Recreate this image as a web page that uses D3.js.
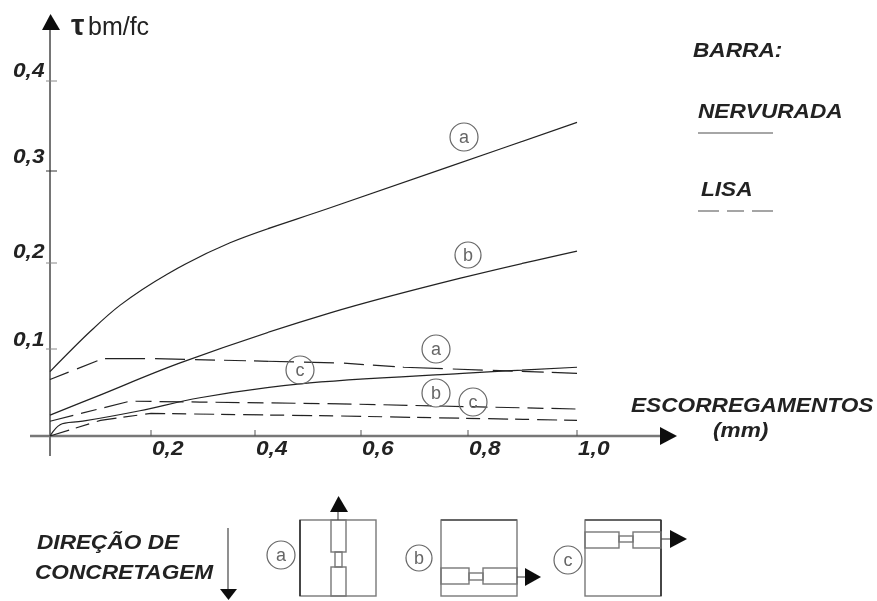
<!DOCTYPE html>
<html>
<head>
<meta charset="utf-8">
<script src="https://cdn.jsdelivr.net/npm/d3@7"></script>
<style>
html, body { margin: 0; background: #fff; }
svg { display: block; }
text { font-family: "Liberation Sans", Arial, sans-serif; }
.lbl { font-weight: bold; font-style: italic; fill: #222; }
</style>
</head>
<body>
<div id="chart"></div>
<script>
var xTicks = [0.2, 0.4, 0.6, 0.8, 1.0];
var yTicks = [0.1, 0.2, 0.3, 0.4];

// values, [slip mm, tbm/fc]
var nervuradaA = [[0, 0.074], [0.079, 0.12], [0.139, 0.151], [0.231, 0.187], [0.352, 0.222], [0.542, 0.26], [0.761, 0.304], [1.0, 0.354]];
var nervuradaB = [[0, 0.024], [0.099, 0.047], [0.256, 0.084], [0.542, 0.142], [0.79, 0.183], [1.0, 0.213]];
var nervuradaC = [[0, 0], [0.02, 0.013], [0.065, 0.017], [0.178, 0.029], [0.294, 0.044], [0.485, 0.06], [0.79, 0.072], [1.0, 0.079]];
var lisaA = [[0, 0.065], [0.105, 0.089], [0.198, 0.089], [0.56, 0.084], [0.68, 0.079], [1.0, 0.072]];
var lisaB = [[0, 0.017], [0.158, 0.04], [0.294, 0.039], [0.56, 0.037], [1.0, 0.031]];
var lisaC = [[0, 0], [0.1, 0.018], [0.2, 0.026], [0.56, 0.023], [1.0, 0.018]];

var width = 877, height = 601;
var svg = d3.select("#chart").append("svg")
    .attr("width", width)
    .attr("height", height);

var defs = svg.append("defs");
defs.append("filter").attr("id", "soft")
    .append("feGaussianBlur").attr("stdDeviation", 0.45);

var g = svg.append("g").attr("filter", "url(#soft)");

// the scan is not quite regular so the scales follow the printed ticks
var x = d3.scaleLinear().domain([0, 0.2, 0.4, 0.6, 0.8, 1.0]).range([50, 151, 255, 361, 468, 577]);
var y = d3.scaleLinear().domain([0, 0.1, 0.2, 0.3, 0.4]).range([436, 349, 263, 171, 81]);

var smooth = d3.line()
    .x(d => x(d[0]))
    .y(d => y(d[1]))
    .curve(d3.curveCatmullRom.alpha(0.5));
var straight = d3.line()
    .x(d => x(d[0]))
    .y(d => y(d[1]));

function draw_curve(data, dash) {
    g.append("path")
        .attr("d", dash ? straight(data) : smooth(data))
        .attr("fill", "none")
        .attr("stroke", "#222")
        .attr("stroke-width", 1.2)
        .attr("stroke-dasharray", dash);
}

function arrow_head(pts) {
    g.append("path")
        .attr("d", d3.line()(pts) + "Z")
        .attr("fill", "#111");
}

function seg(x1, y1, x2, y2, color, w) {
    g.append("line")
        .attr("x1", x1).attr("y1", y1)
        .attr("x2", x2).attr("y2", y2)
        .attr("stroke", color || "#666")
        .attr("stroke-width", w || 1.2);
}

function circled(cx, cy, r, label) {
    g.append("circle")
        .attr("cx", cx).attr("cy", cy).attr("r", r)
        .attr("fill", "none")
        .attr("stroke", "#666")
        .attr("stroke-width", 1.2);
    g.append("text")
        .attr("x", cx).attr("y", cy + 6)
        .attr("text-anchor", "middle")
        .attr("font-size", 18)
        .attr("fill", "#666")
        .text(label);
}

// the printed lettering is wider than plain Liberation, hence the stretch
function txt(tx, ty, s) {
    return g.append("text")
        .attr("class", "lbl")
        .attr("transform", "translate(" + tx + "," + ty + ") scale(1.1,1)")
        .attr("font-size", 20.6)
        .text(s);
}

// axes
seg(50, 456, 50, 28, "#666", 1.8);
seg(30, 436, 662, 436, "#777", 2.4);
arrow_head([[50.5, 14], [42, 30], [60, 30]]);
arrow_head([[677, 436], [660, 427], [660, 445]]);

// printed tick labels do not sit evenly against their ticks
var yLabelGap = [3, 5, 8, 4];
yTicks.forEach((t, i) => {
    seg(46, y(t), 57, y(t), t == 0.3 ? "#333" : "#888", 1);
    txt(13, y(t) - yLabelGap[i], d3.format(".1f")(t).replace(".", ","));
});
xTicks.forEach(t => {
    seg(x(t), 430, x(t), 436, "#555", 1);
    txt(x(t) + 1, 455, d3.format(".1f")(t).replace(".", ","));
});

// curves
draw_curve(nervuradaA);
draw_curve(nervuradaB);
draw_curve(nervuradaC);
draw_curve(lisaA, "20 9 22 8 40 10 30 10");
draw_curve(lisaB, "24 8 16 8");
draw_curve(lisaC, "20 7 14 8");

// curve labels
circled(464, 137, 14, "a");
circled(468, 255, 13, "b");
circled(300, 370, 14, "c");
circled(436, 349, 14, "a");
circled(436, 393, 14, "b");
circled(473, 402, 14, "c");

// y title
g.append("text").attr("x", 71).attr("y", 35).attr("font-size", 30).attr("font-weight", "bold").attr("fill", "#222").text("τ");
g.append("text").attr("x", 88).attr("y", 35).attr("font-size", 25).attr("fill", "#222").text("bm/fc");

// legend
txt(693, 57, "BARRA:");
txt(698, 118, "NERVURADA");
seg(698, 133, 773, 133, "#888", 1.6);
txt(701, 196, "LISA");
g.append("line")
    .attr("x1", 698).attr("y1", 211)
    .attr("x2", 773).attr("y2", 211)
    .attr("stroke", "#888")
    .attr("stroke-width", 1.6)
    .attr("stroke-dasharray", "21 8 17 8 21");

txt(631, 412, "ESCORREGAMENTOS");
txt(713, 437, "(mm)");

// casting direction
txt(37, 549, "DIREÇÃO DE");
txt(35, 579, "CONCRETAGEM");
seg(228, 528, 228, 590, "#444", 1.2);
arrow_head([[228.5, 600], [220, 589], [237, 589]]);

// specimen sketches
function box(bx, by, bw, bh) {
    g.append("rect")
        .attr("x", bx).attr("y", by)
        .attr("width", bw).attr("height", bh)
        .attr("fill", "none")
        .attr("stroke", "#777")
        .attr("stroke-width", 1.4);
}

circled(281, 555, 14, "a");
box(300, 520, 76, 76);
seg(300, 520, 300, 596, "#222", 1.4);
box(331, 520, 15, 32);
box(335, 552, 7, 15);
box(331, 567, 15, 29);
seg(338, 520, 338, 510, "#444", 1.1);
arrow_head([[338.5, 496], [330, 512], [348, 512]]);

circled(419, 558, 13, "b");
box(441, 520, 76, 76);
seg(441, 520, 517, 520, "#666", 2);
box(441, 568, 28, 16);
box(469, 573, 14, 7);
box(483, 568, 34, 16);
seg(517, 577, 527, 577, "#444", 1.1);
arrow_head([[541, 577], [525, 568], [525, 586]]);

circled(568, 560, 14, "c");
box(585, 520, 76, 76);
seg(585, 520, 661, 520, "#666", 2);
seg(661, 520, 661, 596, "#222", 1.4);
box(585, 532, 34, 16);
box(619, 536, 14, 6);
box(633, 532, 28, 16);
seg(661, 539, 672, 539, "#444", 1.1);
arrow_head([[687, 539], [670, 530], [670, 548]]);
</script>
</body>
</html>
